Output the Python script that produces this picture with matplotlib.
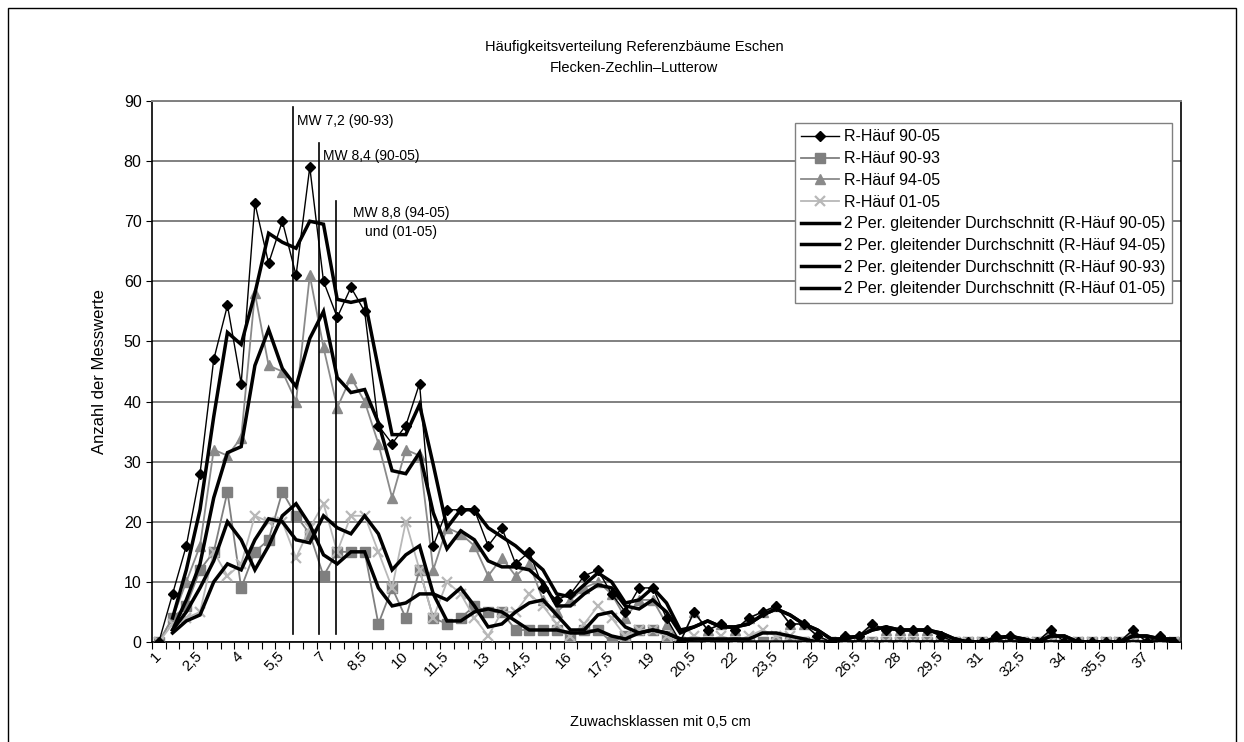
import matplotlib
matplotlib.use("Agg")
import matplotlib.pyplot as plt
import matplotlib.transforms as mtransforms
import numpy as np
import pandas as pd
from matplotlib.patches import Rectangle

plt.rcParams['font.family'] = ['Liberation Sans', 'DejaVu Sans']

# ---- data ----
categories = [1, 1.5, 2, 2.5, 3, 3.5, 4, 4.5, 5, 5.5, 6, 6.5, 7, 7.5, 8, 8.5, 9, 9.5, 10, 10.5,
              11, 11.5, 12, 12.5, 13, 13.5, 14, 14.5, 15, 15.5, 16, 16.5, 17, 17.5, 18, 18.5,
              19, 19.5, 20, 20.5, 21, 21.5, 22, 22.5, 23, 23.5, 24, 24.5, 25, 25.5, 26, 26.5,
              27, 27.5, 28, 28.5, 29, 29.5, 30, 30.5, 31, 31.5, 32, 32.5, 33, 33.5, 34, 34.5,
              35, 35.5, 36, 36.5, 37, 37.5, 38]

haeuf_90_05 = [0, 8, 16, 28, 47, 56, 43, 73, 63, 70,
               61, 79, 60, 54, 59, 55, 36, 33, 36, 43,
               16, 22, 22, 22, 16, 19, 13, 15, 9, 7,
               8, 11, 12, 8, 5, 9, 9, 4, 0, 5,
               2, 3, 2, 4, 5, 6, 3, 3, 1, 0,
               1, 1, 3, 2, 2, 2, 2, 1, 0, 0,
               0, 1, 1, 0, 0, 2, 0, 0, 0, 0,
               0, 2, 0, 1, 0]

haeuf_90_93 = [0, 4, 6, 12, 15, 25, 9, 15, 17, 25,
               21, 18, 11, 15, 15, 15, 3, 9, 4, 12,
               4, 3, 4, 6, 5, 5, 2, 2, 2, 2,
               1, 2, 2, 0, 1, 2, 2, 1, 0, 0,
               0, 0, 0, 0, 0, 0, 0, 0, 0, 0,
               0, 0, 0, 0, 0, 0, 0, 0, 0, 0,
               0, 0, 0, 0, 0, 0, 0, 0, 0, 0,
               0, 0, 0, 0, 0]

haeuf_94_05 = [0, 4, 10, 16, 32, 31, 34, 58, 46, 45,
               40, 61, 49, 39, 44, 40, 33, 24, 32, 31,
               12, 19, 18, 16, 11, 14, 11, 13, 7, 5,
               7, 9, 10, 8, 4, 7, 7, 3, 0, 5,
               2, 3, 2, 4, 5, 6, 3, 3, 1, 0,
               1, 1, 3, 2, 2, 2, 2, 1, 0, 0,
               0, 1, 1, 0, 0, 2, 0, 0, 0, 0,
               0, 2, 0, 1, 0]

haeuf_01_05 = [0, 3, 4, 5, 15, 11, 13, 21, 20, 20,
               14, 19, 23, 15, 21, 21, 15, 9, 20, 12,
               4, 10, 8, 4, 1, 5, 5, 8, 6, 3,
               1, 3, 6, 4, 1, 2, 2, 1, 0, 1,
               0, 1, 0, 1, 2, 1, 1, 0, 0, 0,
               0, 0, 0, 0, 0, 0, 0, 0, 0, 0,
               0, 0, 0, 0, 0, 0, 0, 0, 0, 0,
               0, 0, 0, 0, 0]

mw_labels = ["MW 7,2 (90-93)", "MW 8,4 (90-05)", "MW 8,8 (94-05)"]

W, H = 1244, 742
fig = plt.figure(figsize=(W / 100, H / 100), dpi=100)
fig.patch.set_facecolor('white')

# outer chart border
fig.add_artist(Rectangle((8 / W, -0.01), (1236 - 8) / W, 1 - 8 / H + 0.01,
                         transform=fig.transFigure, fill=False, edgecolor='black', lw=1.0))

ax = fig.add_axes([152 / W, 1 - 642 / H, (1181 - 152) / W, (642 - 101) / H])

x = np.arange(len(categories))

grey_dark = '#7f7f7f'
grey_mid = '#8a8a8a'
grey_light = '#b8b8b8'

ax.plot(x, haeuf_90_05, color='black', lw=1.0, marker='D', ms=5.5, mfc='black', mec='black',
        label='R-Häuf 90-05', zorder=4)
ax.plot(x, haeuf_90_93, color=grey_dark, lw=1.3, marker='s', ms=6.5, mfc=grey_dark, mec=grey_dark,
        label='R-Häuf 90-93', zorder=3)
ax.plot(x, haeuf_94_05, color=grey_mid, lw=1.3, marker='^', ms=7, mfc=grey_mid, mec=grey_mid,
        label='R-Häuf 94-05', zorder=3)
ax.plot(x, haeuf_01_05, color=grey_light, lw=1.3, marker='x', ms=6.5, mew=1.6, mfc=grey_light,
        mec=grey_light, label='R-Häuf 01-05', zorder=3)

ma_sets = [(haeuf_90_05, '2 Per. gleitender Durchschnitt (R-Häuf 90-05)'),
           (haeuf_94_05, '2 Per. gleitender Durchschnitt (R-Häuf 94-05)'),
           (haeuf_90_93, '2 Per. gleitender Durchschnitt (R-Häuf 90-93)'),
           (haeuf_01_05, '2 Per. gleitender Durchschnitt (R-Häuf 01-05)')]
for vals, lab in ma_sets:
    ma = pd.Series(vals, dtype=float).rolling(2).mean()
    ax.plot(x, ma, color='black', lw=2.5, label=lab, zorder=5, solid_joinstyle='miter')

# mean value lines
mw_pos = [9.77, 11.69, 12.93]
mw_top = [89.0, 83.0, 73.4]
for xp, top in zip(mw_pos, mw_top):
    ax.plot([xp, xp], [1.4, top], color='black', lw=1.2, zorder=6)
ax.text(10.1, 86.7, mw_labels[0], fontsize=10, va='center', ha='left')
ax.text(11.95, 80.8, mw_labels[1], fontsize=10, va='center', ha='left')
ax.text(14.15, 71.4, mw_labels[2], fontsize=10, va='center', ha='left')
ax.text(20.3, 68.2, "und (01-05)", fontsize=10, va='center', ha='right')

ax.set_xlim(-0.5, len(categories) - 0.5)
ax.set_ylim(0, 90)
ax.set_yticks(range(0, 91, 10))
ax.tick_params(axis='y', labelsize=11.5, length=4, color='black')
ax.yaxis.grid(True, color='#808080', lw=1.4)
ax.set_axisbelow(True)

def fmt(v):
    return ('%g' % v).replace('.', ',')

label_idx = list(range(0, len(categories), 3))
ax.set_xticks(label_idx)
ax.set_xticklabels([fmt(categories[i]) for i in label_idx], rotation=45, ha='right',
                   rotation_mode='anchor', fontsize=11)
ax.tick_params(axis='x', length=0, pad=5)
shift = mtransforms.ScaledTranslation(-5 / 100, 0, fig.dpi_scale_trans)
for lab in ax.get_xticklabels():
    lab.set_transform(lab.get_transform() + shift)
ax.set_xticks(np.arange(-0.5, len(categories), 1.0), minor=True)
ax.tick_params(axis='x', which='minor', length=5, color='black', width=0.8)

for side in ['left', 'bottom', 'right']:
    ax.spines[side].set_color('black')
    ax.spines[side].set_linewidth(1.2)
ax.spines['top'].set_color('#808080')
ax.spines['top'].set_linewidth(1.4)

ax.set_ylabel('Anzahl der Messwerte', fontsize=12, labelpad=12)
fig.text(660 / W, 1 - 722 / H, 'Zuwachsklassen mit 0,5 cm', ha='center', va='center', fontsize=10.5)
fig.text(634 / W, 1 - 47 / H, 'Häufigkeitsverteilung Referenzbäume Eschen', ha='center', va='center',
         fontsize=10.5)
fig.text(634 / W, 1 - 68 / H, 'Flecken-Zechlin\u2013Lutterow', ha='center', va='center', fontsize=10.5)

leg = ax.legend(loc='upper right', bbox_to_anchor=(1172 / W, 1 - 123 / H),
                bbox_transform=fig.transFigure, fontsize=11.5, frameon=True, fancybox=False,
                edgecolor='#808080', framealpha=1, handlelength=2.4, borderpad=0.4,
                labelspacing=0.42, handletextpad=0.3, borderaxespad=0)
leg.get_frame().set_linewidth(1.0)
leg.set_zorder(10)

fig.savefig('out.png', dpi=100, facecolor='white')
